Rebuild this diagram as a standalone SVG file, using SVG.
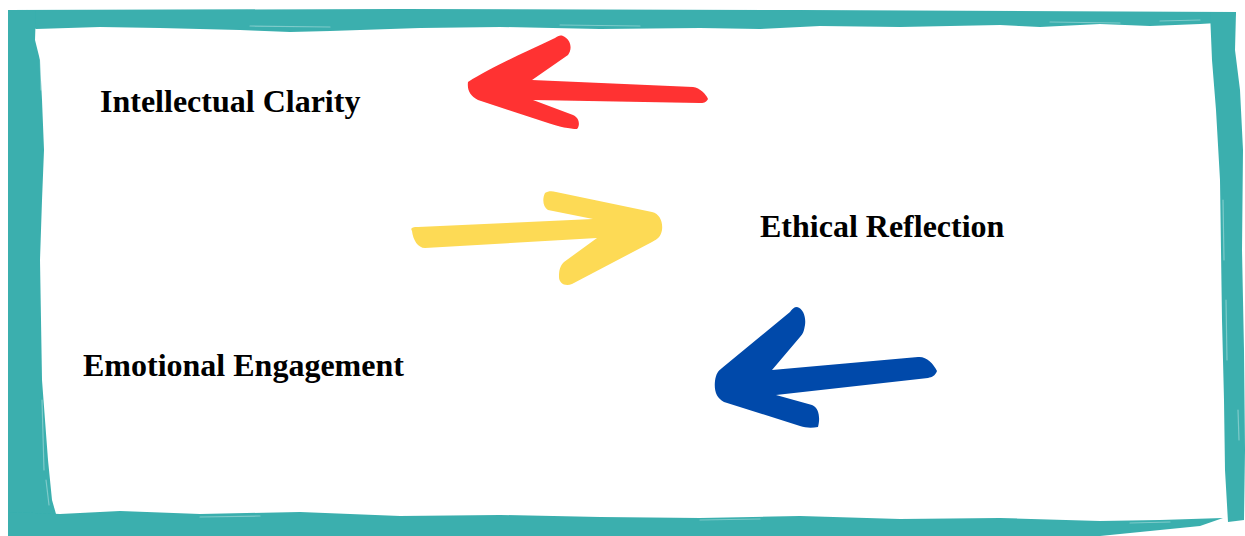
<svg xmlns="http://www.w3.org/2000/svg" width="1245" height="536" viewBox="0 0 1245 536">
  <style>
    .band { fill: #3aafae; }
    .streak { fill: none; stroke: #ffffff; stroke-linecap: round; opacity: 0.35; }
    .label { font-family: "Liberation Serif", "Times New Roman", serif; font-weight: bold; font-size: 32px; fill: #000000; }
    .red { fill: #ff3131; }
    .yellow { fill: #fdda55; }
    .blue { fill: #0349aa; }
  </style>
  <defs>
    <filter id="soft" x="-5%" y="-5%" width="110%" height="110%">
      <feGaussianBlur stdDeviation="0.6"/>
    </filter>
  </defs>

  <rect width="1245" height="536" fill="#ffffff"/>

  <!-- painted frame -->
  <g id="frame" filter="url(#soft)">
    <path class="band" d="M 8 10 L 400 9 L 800 10 L 1236 12 L 1234 22 L 1200 24 L 1150 26 L 1100 24 L 1040 27 L 1000 25 L 900 27 L 820 26 L 760 29 L 700 28 L 600 29 L 500 27 L 420 28 L 330 31 L 290 32 L 240 30 L 160 28 L 100 27 L 36 29 Z"/>
    <path class="band" d="M 8 10 L 36 10 L 35 40 L 40 60 L 42 100 L 44 150 L 42 200 L 40 260 L 41 320 L 42 380 L 45 420 L 48 460 L 52 500 L 56 514 L 40 522 L 8 536 Z"/>
    <path class="band" d="M 8 536 L 8 512 L 60 514 L 120 511 L 200 514 L 300 512 L 400 516 L 500 515 L 600 517 L 700 518 L 800 516 L 900 519 L 1000 518 L 1100 521 L 1160 520 L 1223 518 L 1200 526 L 1150 531 L 1100 536 Z"/>
    <path class="band" d="M 1210 12 L 1236 12 L 1235 50 L 1240 90 L 1243 150 L 1242 250 L 1244 350 L 1245 450 L 1244 520 L 1228 522 L 1225 470 L 1224 400 L 1222 320 L 1221 250 L 1220 180 L 1216 110 L 1212 60 Z"/>
    <!-- dry-brush streaks -->
    <path class="streak" stroke-width="1.2" d="M 250 26 L 330 27 M 1050 22 L 1120 23 M 1160 21 L 1200 20 M 560 25 L 640 26"/>
    <path class="streak" stroke-width="1.2" d="M 40 50 L 41 90 M 42 400 L 44 470 M 46 480 L 49 505"/>
    <path class="streak" stroke-width="1.2" d="M 1223 200 L 1224 260 M 1226 300 L 1227 360 M 1238 410 L 1239 440"/>
    <path class="streak" stroke-width="1.2" d="M 200 517 L 260 516 M 700 520 L 760 519 M 1130 523 L 1170 522"/>
  </g>

  <!-- brush arrows -->
  <g id="connectors" filter="url(#soft)">
    <path id="arrow-red" class="red" d="M 563 36 C 572 40 572 50 568 55 L 532 80 L 693 87 C 700 88 706 94 708 99 C 706 103 703 103 700 103 L 533 100 L 573 115 C 580 118 580 126 577 129 C 570 129 560 127 545 122 L 478 100 C 470 96 467 90 468 82 C 490 68 525 52 555 38 C 558 36 560 35 563 36 Z"/>
    <path id="arrow-yellow" class="yellow" d="M 412 231 C 410 228 412 227 418 227 L 593 219 L 548 210 C 543 207 542 199 545 193 C 548 191 552 191 556 192 L 652 212 C 660 214 663 222 662 230 C 661 236 658 239 652 242 L 572 284 C 565 287 559 283 559 277 C 559 270 560 266 564 262 L 597 238 L 425 248 C 418 248 413 240 412 231 Z"/>
    <path id="arrow-blue" class="blue" d="M 797 307 C 804 309 806 318 805 325 C 804 331 803 334 800 337 L 772 370 L 918 357 C 926 356 933 363 937 371 C 935 376 932 377 928 378 L 776 395 L 812 405 C 820 408 820 420 818 427 C 812 428 806 428 800 426 L 724 402 C 716 398 714 390 715 381 C 716 374 718 371 722 368 L 790 312 C 792 309 794 307 797 307 Z"/>
  </g>

  <!-- labels -->
  <g id="node-intellectual-clarity">
    <text class="label" x="100" y="112">Intellectual Clarity</text>
  </g>
  <g id="node-ethical-reflection">
    <text class="label" x="760" y="237">Ethical Reflection</text>
  </g>
  <g id="node-emotional-engagement">
    <text class="label" x="83" y="376">Emotional Engagement</text>
  </g>
</svg>
